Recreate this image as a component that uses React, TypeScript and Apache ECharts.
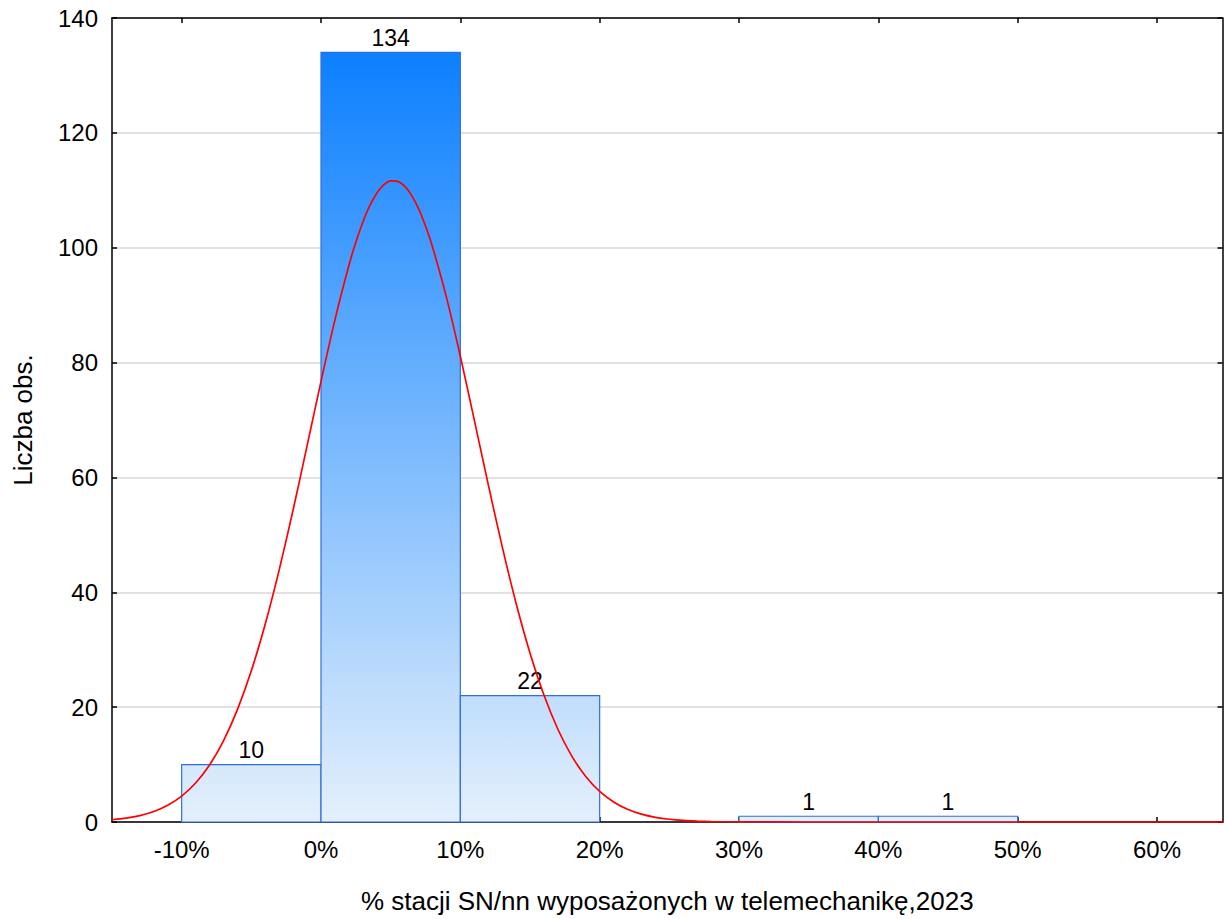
import React, { useEffect, useRef } from "react";
import * as echarts from "echarts";

// Histogram bins (percent of SN/nn stations with telemechanics) and counts
const binStart = [-10, 0, 10, 20, 30, 40];
const binEnd = [0, 10, 20, 30, 40, 50];
const counts = [10, 134, 22, 0, 1, 1];

// Fitted normal curve, sampled along the x axis (denser around the peak)
const curveX = [
  -15, -14, -13, -12, -11, -10, -9, -8, -7, -6, -5, -4, -3, -2, -1, 0, 1, 2, 2.5, 3,
  3.5, 4, 4.5, 5, 5.5, 6, 6.5, 7, 7.5, 8, 9, 10, 11, 12, 13, 14, 15, 16, 17, 18, 19,
  20, 21, 22, 23, 24, 25, 26, 27, 28, 30, 35, 65,
];
const curveY = [
  0.39, 0.67, 1.12, 1.84, 2.92, 4.51, 6.79, 9.93, 14.14, 19.57, 26.33, 34.47, 43.9,
  54.37, 65.49, 76.72, 87.43, 96.89, 100.95, 104.44, 107.31, 109.49, 110.94, 111.64,
  111.56, 110.71, 109.11, 106.79, 103.78, 100.17, 91.4, 81.11, 70.01, 58.78, 47.99,
  38.1, 29.42, 22.1, 16.15, 11.47, 7.93, 5.33, 3.49, 2.22, 1.37, 0.82, 0.48, 0.27,
  0.15, 0.08, 0.02, 0, 0,
];

const xTicks = [-10, 0, 10, 20, 30, 40, 50, 60];

const X_MIN = -15;
const X_MAX = 64.7;
const Y_MAX = 140;

const FONT = '"Liberation Sans", Arial, sans-serif';

export default function App() {
  const ref = useRef<HTMLDivElement>(null);

  useEffect(() => {
    if (!ref.current) return;
    const chart = echarts.init(ref.current, null, { renderer: "svg" });

    const barData = binStart.map((s, i) => [s, binEnd[i], counts[i]]);
    const curveData = curveX.map((x, i) => [x, curveY[i]]);
    const maxCount = Math.max(...counts);

    const axisCommon = {
      axisLine: { show: true, onZero: false, lineStyle: { color: "#000", width: 1.5 } },
      axisTick: { show: true, inside: true, length: 5, lineStyle: { color: "#000", width: 1.5 } },
    };

    chart.setOption({
      animation: false,
      backgroundColor: "#fff",
      grid: { left: 112, right: 1.5, top: 18, bottom: 97, containLabel: false },
      xAxis: [
        {
          type: "value",
          min: X_MIN,
          max: X_MAX,
          ...axisCommon,
          axisTick: { ...axisCommon.axisTick, customValues: xTicks },
          axisLabel: {
            customValues: xTicks,
            formatter: (v: number) => `${v}%`,
            color: "#000",
            fontSize: 24,
            fontFamily: FONT,
            margin: 15,
          },
          splitLine: { show: false },
          name: "% stacji SN/nn wyposażonych w telemechanikę,2023",
          nameLocation: "middle",
          nameGap: 66,
          nameTextStyle: { color: "#000", fontSize: 26, fontFamily: FONT },
        },
        {
          type: "value",
          position: "top",
          min: X_MIN,
          max: X_MAX,
          ...axisCommon,
          axisTick: { ...axisCommon.axisTick, customValues: xTicks },
          axisLabel: { show: false },
          splitLine: { show: false },
        },
      ],
      yAxis: [
        {
          type: "value",
          min: 0,
          max: Y_MAX,
          interval: 20,
          ...axisCommon,
          axisLabel: { color: "#000", fontSize: 24, fontFamily: FONT, margin: 14 },
          splitLine: { show: true, lineStyle: { color: "#d9d9d9", width: 1.5 } },
          name: "Liczba obs.",
          nameLocation: "middle",
          nameGap: 76,
          nameTextStyle: { color: "#000", fontSize: 26, fontFamily: FONT },
        },
        {
          type: "value",
          position: "right",
          min: 0,
          max: Y_MAX,
          interval: 20,
          ...axisCommon,
          axisLabel: { show: false },
          splitLine: { show: false },
        },
      ],
      series: [
        {
          type: "custom",
          xAxisIndex: 0,
          yAxisIndex: 0,
          data: barData,
          renderItem: (params: any, api: any) => {
            const x0 = api.value(0);
            const x1 = api.value(1);
            const v = api.value(2);
            if (!v) return null;
            const p0 = api.coord([x0, v]);
            const p1 = api.coord([x1, 0]);
            const gTop = api.coord([0, maxCount])[1];
            const gBottom = api.coord([0, 0])[1];
            const fill = new echarts.graphic.LinearGradient(
              0,
              gTop,
              0,
              gBottom,
              [
                { offset: 0, color: "#0c80ff" },
                { offset: 1, color: "#e4f0fc" },
              ],
              true
            );
            return {
              type: "group",
              children: [
                {
                  type: "rect",
                  shape: { x: p0[0], y: p0[1], width: p1[0] - p0[0], height: p1[1] - p0[1] },
                  style: { fill, stroke: "#2f6fdb", lineWidth: 1.2 },
                },
                {
                  type: "text",
                  x: (p0[0] + p1[0]) / 2,
                  y: p0[1] - 3,
                  style: {
                    text: String(v),
                    textAlign: "center",
                    textVerticalAlign: "bottom",
                    fontSize: 23,
                    fontFamily: FONT,
                    fill: "#000",
                  },
                },
              ],
            };
          },
        },
        {
          type: "line",
          xAxisIndex: 0,
          yAxisIndex: 0,
          data: curveData,
          smooth: 0.25,
          showSymbol: false,
          symbol: "none",
          lineStyle: { color: "#ff0000", width: 1.7 },
          z: 5,
        },
      ],
    });

    return () => chart.dispose();
  }, []);

  return (
    <div
      ref={ref}
      style={{ position: "fixed", left: 0, top: 0, width: 1224, height: 919, background: "#fff" }}
    />
  );
}
